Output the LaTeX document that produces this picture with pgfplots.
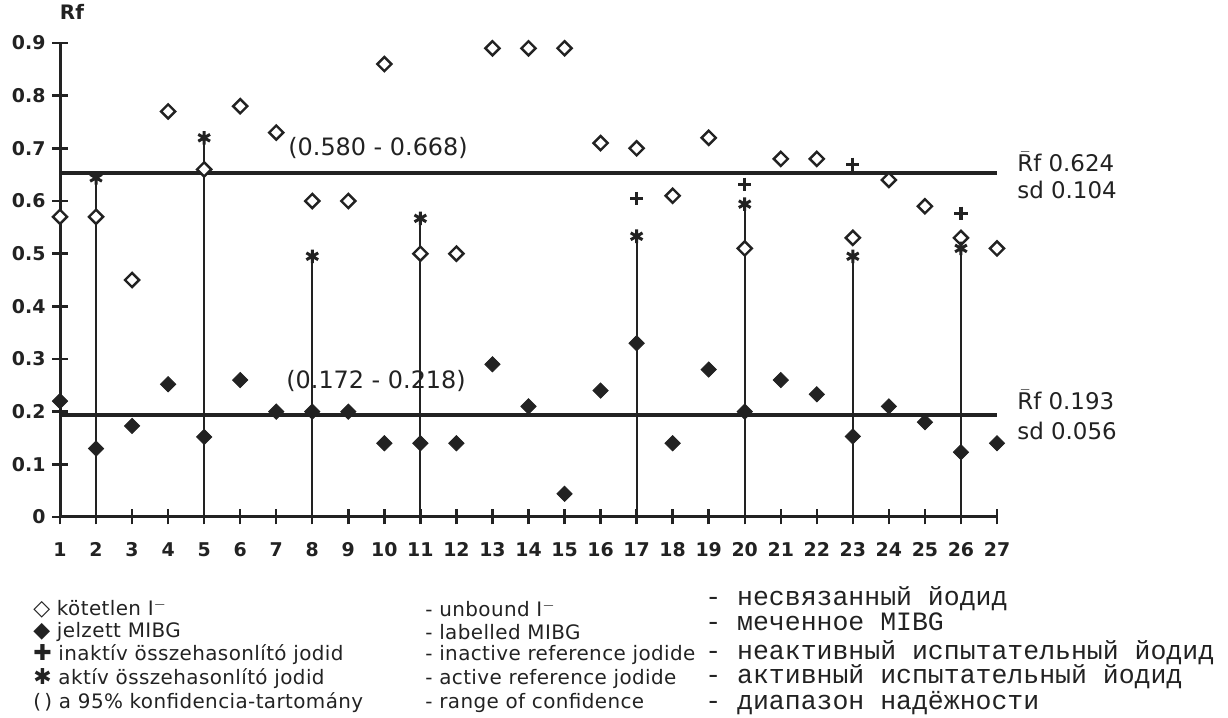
\documentclass[border=0pt]{standalone}
\usepackage{pgfplots}
\pgfplotsset{compat=1.18}
\usepackage{fontspec}
\setmainfont{DejaVu Sans}
\newfontfamily\ru{Liberation Mono}
\newfontfamily\leg[LetterSpace=2]{DejaVu Sans}
\newfontfamily\sym{DejaVu Sans}
\definecolor{ink}{HTML}{222222}
\begin{document}
\begin{tikzpicture}[x=0.5bp,y=0.5bp]
\path[use as bounding box] (0bp,0bp) rectangle (614bp,359bp);
\begin{axis}[
 at={(30bp,100.5bp)}, anchor=south west,
 scale only axis, width=468.5bp, height=237bp,
 xmin=1, xmax=27, ymin=0, ymax=0.9,
 axis x line=bottom, axis y line=left,
 axis line style={-, line width=1.5bp, ink},
 xtick={1,...,27},
 ytick={0,0.1,0.2,0.3,0.4,0.5,0.6,0.7,0.8,0.9},
 yticklabels={0,0.1,0.2,0.3,0.4,0.5,0.6,0.7,0.8,0.9},
 tick align=center, major tick length=7.5bp,
 tick style={line width=1.2bp, ink},
 tick label style={font=\fontsize{9.5}{12}\selectfont\bfseries, text=ink},
 xticklabel style={yshift=-5.5bp},
 /pgf/number format/assume math mode=true,
 clip=false,
]
% drop lines to active reference jodide
\addplot[ycomb, line width=1bp, ink, no marks] coordinates {
 (2,0.644) (5,0.72) (8,0.495) (11,0.567) (17,0.533) (20,0.594) (23,0.495) (26,0.51)};
% mean lines
\addplot[line width=2bp, ink] coordinates {(1,0.653) (27,0.653)};
\addplot[line width=2bp, ink] coordinates {(1,0.1935) (27,0.1935)};
% unbound I-
\addplot[only marks, mark=square*, mark size=2.5bp,
 mark options={rotate=45, fill=white, draw=ink, line width=1.2bp}] coordinates {
 (1,0.57) (2,0.57) (3,0.45) (4,0.77) (5,0.66) (6,0.78) (7,0.73) (8,0.60) (9,0.60)
 (10,0.86) (11,0.50) (12,0.50) (13,0.89) (14,0.89) (15,0.89) (16,0.71) (17,0.70)
 (18,0.61) (19,0.72) (20,0.51) (21,0.68) (22,0.68) (23,0.53) (24,0.64) (25,0.59)
 (26,0.53) (27,0.51)};
% labelled MIBG
\addplot[only marks, mark=square*, mark size=2.7bp,
 mark options={rotate=45, fill=ink, draw=ink}] coordinates {
 (1,0.22) (2,0.13) (3,0.173) (4,0.252) (5,0.152) (6,0.26) (7,0.20) (8,0.20) (9,0.20)
 (10,0.14) (11,0.14) (12,0.14) (13,0.29) (14,0.21) (15,0.044) (16,0.24) (17,0.33)
 (18,0.14) (19,0.28) (20,0.20) (21,0.26) (22,0.233) (23,0.153) (24,0.21) (25,0.18)
 (26,0.123) (27,0.14)};
% inactive reference jodide
\addplot[only marks, mark=+, mark size=3.3bp, mark options={line width=1.6bp, draw=ink}] coordinates {
 (17,0.605) (20,0.632) (23,0.67) (26,0.577)};
% active reference jodide
\addplot[only marks, mark=asterisk, mark size=3.4bp, mark options={line width=1.5bp, draw=ink}] coordinates {
 (2,0.644) (5,0.72) (8,0.495) (11,0.567) (17,0.533) (20,0.594) (23,0.495) (26,0.51)};
\end{axis}
% texts
\node[anchor=center, text=ink, font=\fontsize{10}{12}\selectfont\bfseries] at (72,706) {Rf};
\node[anchor=west, inner xsep=0pt, text=ink, font=\fontsize{12}{14}\selectfont] at (288,570) {(0.580 - 0.668)};
\node[anchor=west, inner xsep=0pt, text=ink, font=\fontsize{12}{14}\selectfont] at (286,337) {(0.172 - 0.218)};
\node[anchor=west, inner xsep=0pt, text=ink, font=\fontsize{11.5}{13}\selectfont] at (1017,556) {\(\bar{\mbox{R}}\)f 0.624};
\node[anchor=west, inner xsep=0pt, text=ink, font=\fontsize{11.5}{13}\selectfont] at (1017,528) {sd 0.104};
\node[anchor=west, inner xsep=0pt, text=ink, font=\fontsize{11.5}{13}\selectfont] at (1017,318) {\(\bar{\mbox{R}}\)f 0.193};
\node[anchor=west, inner xsep=0pt, text=ink, font=\fontsize{11.5}{13}\selectfont] at (1017,287) {sd 0.056};
% legend column 1 and 2
\begin{scope}[every node/.style={anchor=west, inner xsep=0pt, text=ink, font=\fontsize{10}{12}\selectfont\leg}]
\node at (33,109) {{\sym\fontsize{11}{12}\selectfont ◇}\ kötetlen I$^{-}$};
\node at (33,86) {{\sym\fontsize{11}{12}\selectfont ◆}\ jelzett MIBG};
\node at (33,63) {{\sym\fontsize{11}{12}\selectfont ✚}\ inaktív összehasonlító jodid};
\node at (33,39) {{\sym\fontsize{11}{12}\selectfont ✱}\ aktív összehasonlító jodid};
\node at (33,15) {(\,) a 95\% konfidencia-tartomány};
\node at (425,109) {- unbound I$^{-}$};
\node at (425,86) {- labelled MIBG};
\node at (425,63) {- inactive reference jodide};
\node at (425,39) {- active reference jodide};
\node at (425,15) {- range of confidence};
\end{scope}
\begin{scope}[every node/.style={anchor=west, inner xsep=0pt, text=ink, font=\fontsize{13.3}{15}\selectfont\ru}]
\node at (705,119) {- несвязанный йодид};
\node at (705,96) {- меченное MIBG};
\node at (705,65) {- неактивный испытательный йодид};
\node at (705,41) {- активный испытательный йодид};
\node at (705,15) {- диапазон надёжности};
\end{scope}
\end{tikzpicture}
\end{document}
